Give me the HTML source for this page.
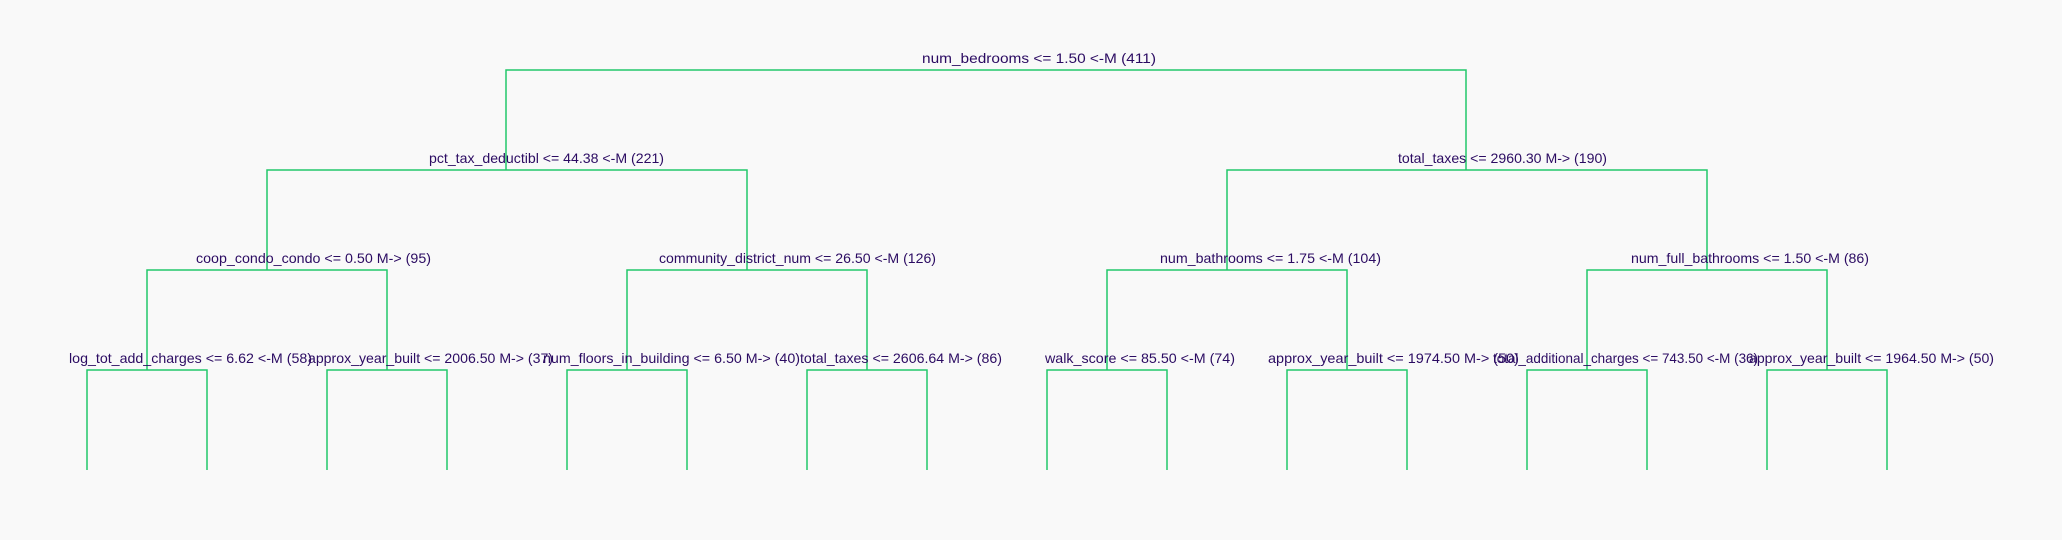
<!DOCTYPE html>
<html><head><meta charset="utf-8"><style>html,body{margin:0;padding:0;background:#f9f9f9}svg{display:block}</style></head>
<body>
<svg width="2062" height="540" xmlns="http://www.w3.org/2000/svg">
<rect width="2062" height="540" fill="#f9f9f9"/>
<g stroke="#22c86a" stroke-width="1.5" fill="none">
<path d="M506 170V70H1466V170"/>
<path d="M267 270V170H747V270"/>
<path d="M1227 270V170H1707V270"/>
<path d="M147 370V270H387V370"/>
<path d="M627 370V270H867V370"/>
<path d="M1107 370V270H1347V370"/>
<path d="M1587 370V270H1827V370"/>
<path d="M87 470V370H207V470"/>
<path d="M327 470V370H447V470"/>
<path d="M567 470V370H687V470"/>
<path d="M807 470V370H927V470"/>
<path d="M1047 470V370H1167V470"/>
<path d="M1287 470V370H1407V470"/>
<path d="M1527 470V370H1647V470"/>
<path d="M1767 470V370H1887V470"/>
</g>
<g fill="#2b0b62" font-family="Liberation Sans, sans-serif" font-size="14" lengthAdjust="spacingAndGlyphs">
<text x="922" y="63" textLength="234" lengthAdjust="spacingAndGlyphs">num_bedrooms &lt;= 1.50 &lt;-M (411)</text>
<text x="429" y="163" textLength="235" lengthAdjust="spacingAndGlyphs">pct_tax_deductibl &lt;= 44.38 &lt;-M (221)</text>
<text x="1398" y="163" textLength="209" lengthAdjust="spacingAndGlyphs">total_taxes &lt;= 2960.30 M-&gt; (190)</text>
<text x="196" y="263" textLength="235" lengthAdjust="spacingAndGlyphs">coop_condo_condo &lt;= 0.50 M-&gt; (95)</text>
<text x="659" y="263" textLength="277" lengthAdjust="spacingAndGlyphs">community_district_num &lt;= 26.50 &lt;-M (126)</text>
<text x="1160" y="263" textLength="221" lengthAdjust="spacingAndGlyphs">num_bathrooms &lt;= 1.75 &lt;-M (104)</text>
<text x="1631" y="263" textLength="238" lengthAdjust="spacingAndGlyphs">num_full_bathrooms &lt;= 1.50 &lt;-M (86)</text>
<text x="69" y="363" textLength="243" lengthAdjust="spacingAndGlyphs">log_tot_add_charges &lt;= 6.62 &lt;-M (58)</text>
<text x="308" y="363" textLength="245" lengthAdjust="spacingAndGlyphs">approx_year_built &lt;= 2006.50 M-&gt; (37)</text>
<text x="543" y="363" textLength="257" lengthAdjust="spacingAndGlyphs">num_floors_in_building &lt;= 6.50 M-&gt; (40)</text>
<text x="800" y="363" textLength="202" lengthAdjust="spacingAndGlyphs">total_taxes &lt;= 2606.64 M-&gt; (86)</text>
<text x="1045" y="363" textLength="190" lengthAdjust="spacingAndGlyphs">walk_score &lt;= 85.50 &lt;-M (74)</text>
<text x="1268" y="363" textLength="251" lengthAdjust="spacingAndGlyphs">approx_year_built &lt;= 1974.50 M-&gt; (50)</text>
<text x="1493" y="363" textLength="265" lengthAdjust="spacingAndGlyphs">total_additional_charges &lt;= 743.50 &lt;-M (36)</text>
<text x="1749" y="363" textLength="245" lengthAdjust="spacingAndGlyphs">approx_year_built &lt;= 1964.50 M-&gt; (50)</text>
</g>
</svg>
</body></html>
